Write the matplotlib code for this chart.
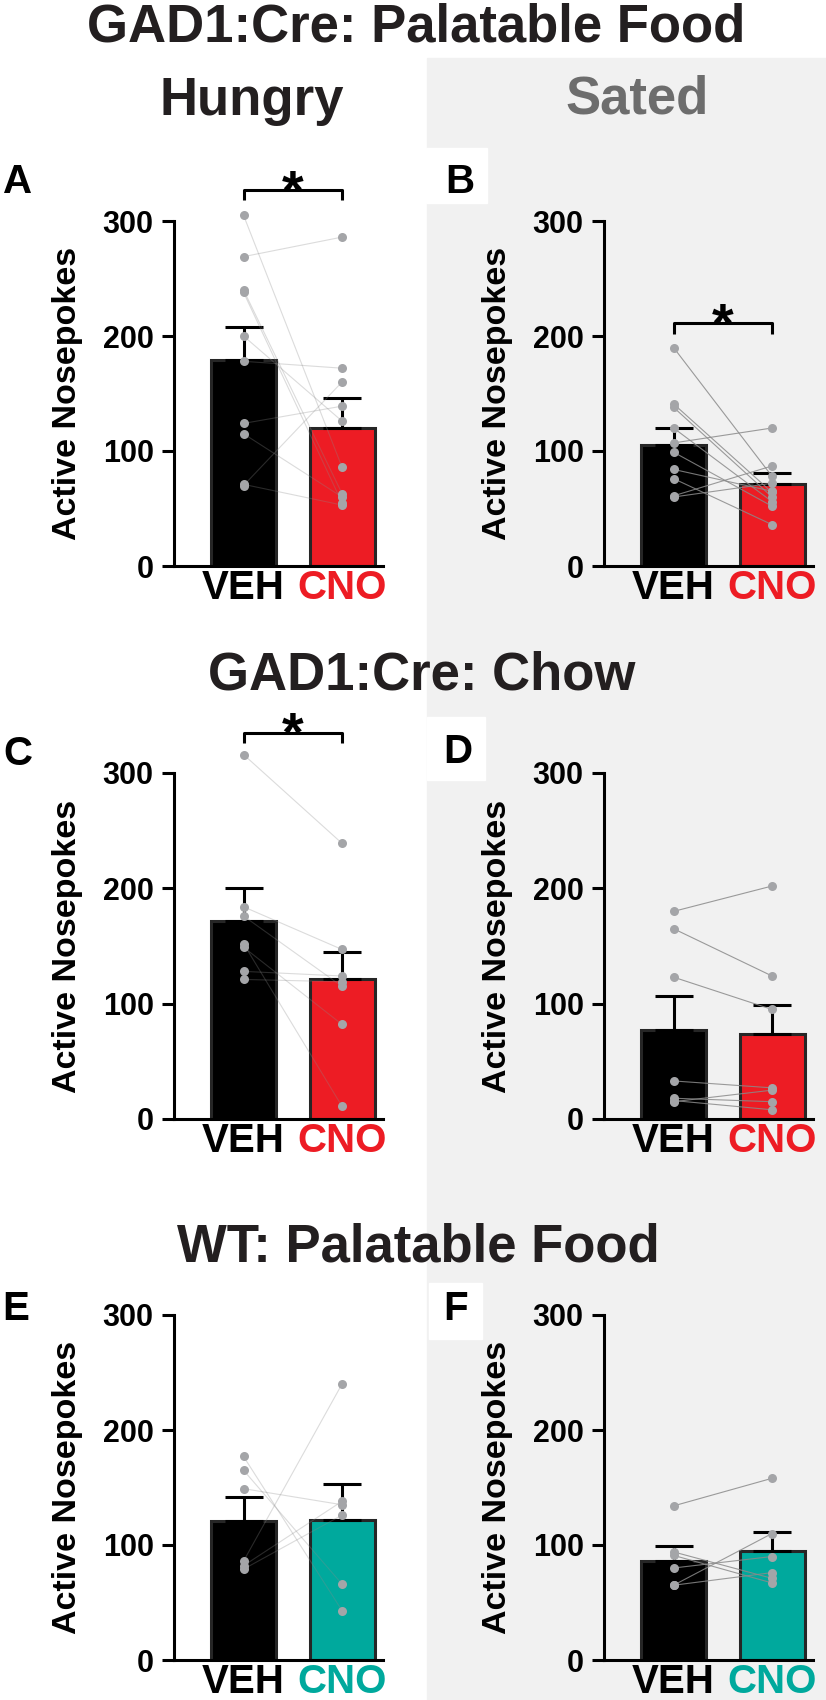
import matplotlib
matplotlib.use('Agg')
import matplotlib.pyplot as plt
from matplotlib.patches import Rectangle

plt.rcParams['font.family'] = ['Liberation Sans', 'DejaVu Sans']
plt.rcParams['font.weight'] = 'bold'

# ---- data ----
groups = ['VEH', 'CNO']
panel_ids = ['A', 'B', 'C', 'D', 'E', 'F']

veh_mean = [179, 105, 172, 77, 121, 86]
veh_sem = [29, 15, 28, 30, 21, 13]
cno_mean = [120, 71, 121, 74, 122, 95]
cno_sem = [26, 10, 24, 25, 31, 16]

veh_pts = [
    [305, 269, 240, 238, 200, 178, 124, 115, 71, 70],
    [190, 141, 138, 120, 107, 99, 84, 76, 61, 60],
    [316, 184, 176, 152, 149, 128, 121],
    [180, 165, 123, 33, 18, 16, 15],
    [177, 165, 149, 86, 82, 79],
    [134, 94, 91, 80, 65, 65],
]
cno_pts = [
    [86, 286, 63, 55, 126, 172, 139, 60, 53, 160],
    [78, 64, 60, 56, 120, 52, 65, 36, 87, 72],
    [239, 147, 115, 11, 82, 124, 119],
    [202, 124, 95, 27, 15, 8, 25],
    [43, 66, 135, 240, 138, 126],
    [158, 71, 67, 90, 110, 76],
]

# significance brackets (panel -> bracket height)
sig_brackets = {'A': 327, 'B': 211, 'C': 335}

section_titles = ['GAD1:Cre: Palatable Food', 'GAD1:Cre: Chow', 'WT: Palatable Food']
state_titles = ['Hungry', 'Sated']

# ---- layout (pixel coords of the 826x1700 canvas) ----
W, H = 826, 1700
def fx(x):
    return x / W
def fy(y):
    return 1 - y / H

RED = '#ed1c24'
TEAL = '#00a99d'
row_y = [(221, 566), (773, 1119), (1315, 1660)]
col_x = [174, 604]
ax_w = 209
row_colors = [RED, RED, TEAL]

fig = plt.figure(figsize=(W / 100, H / 100), dpi=100)

# gray "sated" background and white boxes behind right-hand letters
fig.patches.append(Rectangle((fx(427), fy(1700)), fx(826) - fx(427), fy(58) - fy(1700),
                             transform=fig.transFigure, color='#f1f1f1', zorder=-2))
for (x0, y0, x1, y1) in [(426, 148, 487, 203), (427, 717, 485, 780), (429, 1283, 482, 1339)]:
    fig.patches.append(Rectangle((fx(x0), fy(y1)), fx(x1) - fx(x0), fy(y0) - fy(y1),
                                 transform=fig.transFigure, color='white', zorder=-1))

title_kw = dict(fontsize=38, fontweight='bold', ha='center', va='baseline', color='#231f20')
fig.text(fx(416), fy(42), section_titles[0], **title_kw)
fig.text(fx(422), fy(690), section_titles[1], **title_kw)
fig.text(fx(418), fy(1261), section_titles[2], **title_kw)
fig.text(fx(252), fy(115), state_titles[0], **title_kw)
fig.text(fx(637), fy(113), state_titles[1], **{**title_kw, 'color': '#6d6d6d'})

label_pos = [(3, 193), (445, 193), (3, 765), (443, 763), (2, 1320), (443, 1320)]

for i, pid in enumerate(panel_ids):
    r, c = divmod(i, 2)
    top, bottom = row_y[r]
    ax = fig.add_axes([fx(col_x[c]), fy(bottom), ax_w / W, (bottom - top) / H])
    ax.set_zorder(2)
    ax.patch.set_alpha(0)
    cno_color = row_colors[r]
    x = [0, 1]

    ax.bar(x, [veh_mean[i], cno_mean[i]], width=0.66, color=['#000000', cno_color],
           edgecolor='#262626', linewidth=2.2, zorder=2)
    ax.errorbar(x, [veh_mean[i], cno_mean[i]],
                yerr=[[0, 0], [veh_sem[i], cno_sem[i]]], fmt='none', ecolor='black',
                elinewidth=2.2, capsize=14, capthick=2.2, zorder=3)

    # paired lines per animal
    faint = c == 0
    for v, cn in zip(veh_pts[i], cno_pts[i]):
        ax.plot(x, [v, cn], color='#8a8a8a', lw=0.8, alpha=0.3 if faint else 0.85,
                zorder=4, clip_on=False)
    ax.plot([0] * len(veh_pts[i]), veh_pts[i], 'o', color='#a4a5a8', ms=6.5, mew=0,
            zorder=5, clip_on=False)
    ax.plot([1] * len(cno_pts[i]), cno_pts[i], 'o', color='#a4a5a8', ms=6.5, mew=0,
            zorder=5, clip_on=False)

    if pid in sig_brackets:
        yb = sig_brackets[pid]
        ax.plot([0, 0, 1, 1], [yb - 9, yb, yb, yb - 9], color='black', lw=2.2,
                clip_on=False, zorder=6, solid_capstyle='butt')
        ax.annotate('*', xy=(0.5, yb), xytext=(0, -13), textcoords='offset points',
                    ha='center', va='baseline', fontsize=40, fontweight='bold',
                    annotation_clip=False)

    ax.set_xlim(-0.706, 1.416)
    ax.set_ylim(0, 300)
    ax.set_yticks([0, 100, 200, 300])
    ax.set_xticks(x)
    ax.set_xticklabels(groups)
    ax.get_xticklabels()[1].set_color(cno_color)
    for s in ['top', 'right']:
        ax.spines[s].set_visible(False)
    for s in ['left', 'bottom']:
        ax.spines[s].set_linewidth(2.2)
    ax.tick_params(axis='y', length=8.6, width=2.2, labelsize=22, pad=6)
    ax.tick_params(axis='x', length=0, labelsize=29, pad=2)
    ax.set_ylabel('Active Nosepokes', fontsize=24.5, fontweight='bold', labelpad=14)

    lx, ly = label_pos[i]
    fig.text(fx(lx), fy(ly), pid, fontsize=29, fontweight='bold', ha='left', va='baseline')

fig.savefig('out.png', dpi=100)
